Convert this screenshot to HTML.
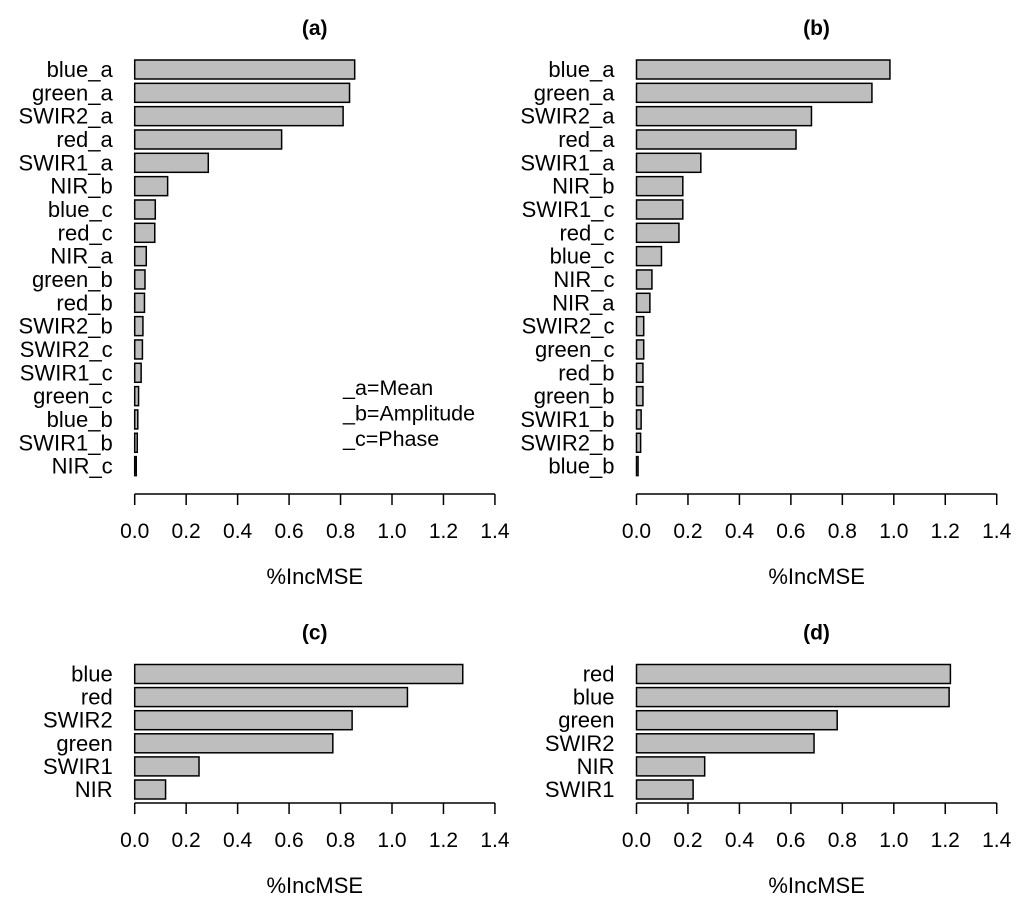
<!DOCTYPE html>
<html><head><meta charset="utf-8"><style>
body{margin:0;background:#fff;}
svg text{font-family:"Liberation Sans",Arial,sans-serif;fill:#000;}
</style></head><body>
<svg id="chart" width="1024" height="908" xmlns="http://www.w3.org/2000/svg"></svg>
<script>
const catsA=["blue_a","green_a","SWIR2_a","red_a","SWIR1_a","NIR_b","blue_c","red_c","NIR_a","green_b","red_b","SWIR2_b","SWIR2_c","SWIR1_c","green_c","blue_b","SWIR1_b","NIR_c"];
const valsA=[0.855,0.835,0.81,0.571,0.286,0.128,0.08,0.078,0.045,0.04,0.038,0.032,0.03,0.025,0.015,0.012,0.01,0.006];
const catsB=["blue_a","green_a","SWIR2_a","red_a","SWIR1_a","NIR_b","SWIR1_c","red_c","blue_c","NIR_c","NIR_a","SWIR2_c","green_c","red_b","green_b","SWIR1_b","SWIR2_b","blue_b"];
const valsB=[0.985,0.915,0.68,0.62,0.25,0.18,0.18,0.165,0.097,0.06,0.052,0.028,0.028,0.025,0.025,0.018,0.016,0.006];
const catsC=["blue","red","SWIR2","green","SWIR1","NIR"];
const valsC=[1.275,1.06,0.845,0.77,0.25,0.12];
const catsD=["red","blue","green","SWIR2","NIR","SWIR1"];
const valsD=[1.22,1.215,0.78,0.69,0.265,0.22];
const ticks=[0,0.2,0.4,0.6,0.8,1.0,1.2,1.4];
const tickLabels=["0.0","0.2","0.4","0.6","0.8","1.0","1.2","1.4"];

const svg=document.getElementById('chart');
const NS="http://www.w3.org/2000/svg";
function mk(tag,attrs,txt){const e=document.createElementNS(NS,tag);for(const k in attrs)e.setAttribute(k,attrs[k]);if(txt!==undefined)e.textContent=txt;svg.appendChild(e);return e;}

function panel(id,title,cats,vals,x0,barTop,step,axisY){
  const scale=257.3;
  const xs=v=>x0+v*scale;
  const t=mk('text',{x:x0+180,y:barTop-25,'text-anchor':'middle','font-size':'21','font-weight':'bold'},title);
  
  
  cats.forEach((c,i)=>{
    const y=barTop+i*step;
    const r=mk('rect',{x:xs(0),y:y,width:Math.max(1,xs(vals[i])-xs(0)),height:19,fill:'#bebebe',stroke:'#000','stroke-width':'1.5'});
    
    
    const l=mk('text',{x:x0-22,y:y+17,'text-anchor':'end','font-size':'22'},c);
    
    
  });
  const ax=mk('line',{x1:xs(0),x2:xs(1.4),y1:axisY,y2:axisY,stroke:'#000','stroke-width':'1.5'});
  
  
  ticks.forEach((v,i)=>{
    const tk=mk('line',{x1:xs(v),x2:xs(v),y1:axisY,y2:axisY+11,stroke:'#000','stroke-width':'1.5'});
    
    
    const tl=mk('text',{x:xs(v),y:axisY+44,'text-anchor':'middle','font-size':'21'},tickLabels[i]);
    
    
  });
  const xt=mk('text',{x:xs(0.7),y:axisY+90,'text-anchor':'middle','font-size':'22'},'%IncMSE');
  
  
}
panel('a','(a)',catsA,valsA,134.7,60,23.33,494);
panel('b','(b)',catsB,valsB,636.5,60,23.33,494);
panel('c','(c)',catsC,valsC,134.7,664.5,23.1,803);
panel('d','(d)',catsD,valsD,636.5,664.5,23.1,803);
const legend=["_a=Mean","_b=Amplitude","_c=Phase"];
legend.forEach((s,i)=>{
  const e=mk('text',{x:343,y:395+i*25.5,'font-size':'21.5'},s);
  
  
});
</script>
</body></html>
